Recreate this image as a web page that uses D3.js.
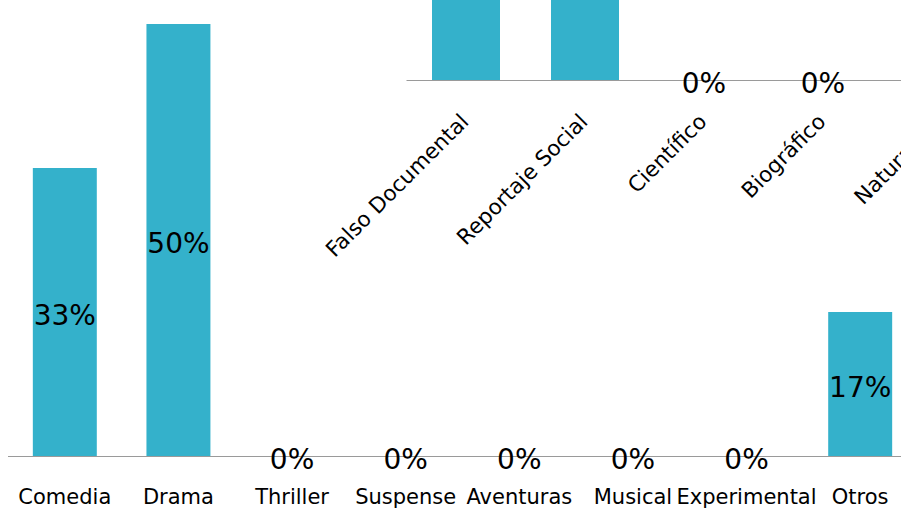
<!DOCTYPE html>
<html><head><meta charset="utf-8">
<script src="https://cdn.jsdelivr.net/npm/d3@7"></script>
<style>body{margin:0;background:#fff}svg{display:block}text{font-family:"DejaVu Sans",sans-serif}</style>
</head><body>
<svg id="c" width="901" height="510"></svg>
<script>
// Main chart
const categories = ["Comedia","Drama","Thriller","Suspense","Aventuras","Musical","Experimental","Otros"];
const values = [2/6, 3/6, 0, 0, 0, 0, 0, 1/6];
// Overlapping second chart (partly visible)
const categories2 = ["Falso Documental","Reportaje Social","Científico","Biográfico","Naturaleza"];
const values2 = [0.5, 0.5, 0, 0, 0];

const svg = d3.select("#c");
const color = "#34b1cb";
const fmt = v => Math.round(v*100) + "%";

function drawChart(g, cats, vals, xr, base, top, rotate) {
  const x = d3.scaleBand().domain(cats).range(xr).paddingInner(rotate ? 0.4286 : 0.437).paddingOuter(rotate ? 0.2143 : 0.2185);
  const y = d3.scaleLinear().domain([0, 0.5]).range([base, top]);
  g.selectAll("rect.bar").data(cats).join("rect")
    .attr("x", d => x(d)).attr("width", x.bandwidth())
    .attr("y", (d,i) => y(vals[i])).attr("height", (d,i) => base - y(vals[i]))
    .attr("fill", color);
  g.append("line").attr("x1", xr[0]).attr("x2", 901).attr("y1", base + 0.5).attr("y2", base + 0.5)
    .attr("stroke", "#9a9a9a").attr("stroke-width", 1);
  g.selectAll("text.val").data(cats.filter(d => x(d) + x.bandwidth()/2 < 901)).join("text")
    .attr("x", d => x(d) + x.bandwidth()/2)
    .attr("y", d => (y(vals[cats.indexOf(d)]) + base)/2)
    .attr("dy", "0.46em")
    .attr("text-anchor", "middle").attr("font-size", 28).attr("fill", "#000")
    .text(d => fmt(vals[cats.indexOf(d)]));
  if (rotate) {
    g.selectAll("text.cat").data(cats).join("text")
      .attr("transform", d => `translate(${x(d) + x.bandwidth()/2 + 4},${base + 43}) rotate(-45)`)
      .attr("text-anchor", "end").attr("font-size", 21.5).attr("fill", "#000")
      .text(d => d);
  } else {
    g.selectAll("text.cat").data(cats).join("text")
      .attr("x", d => x(d) + x.bandwidth()/2).attr("y", base + 48)
      .attr("text-anchor", "middle").attr("font-size", 21).attr("fill", "#000")
      .text(d => d);
  }
}

drawChart(svg.append("g"), categories2, values2, [406.5, 406.5 + 119*categories2.length], 80, -352, true);
drawChart(svg.append("g"), categories, values, [8, 917], 456, 24, false);
</script>
</body></html>
